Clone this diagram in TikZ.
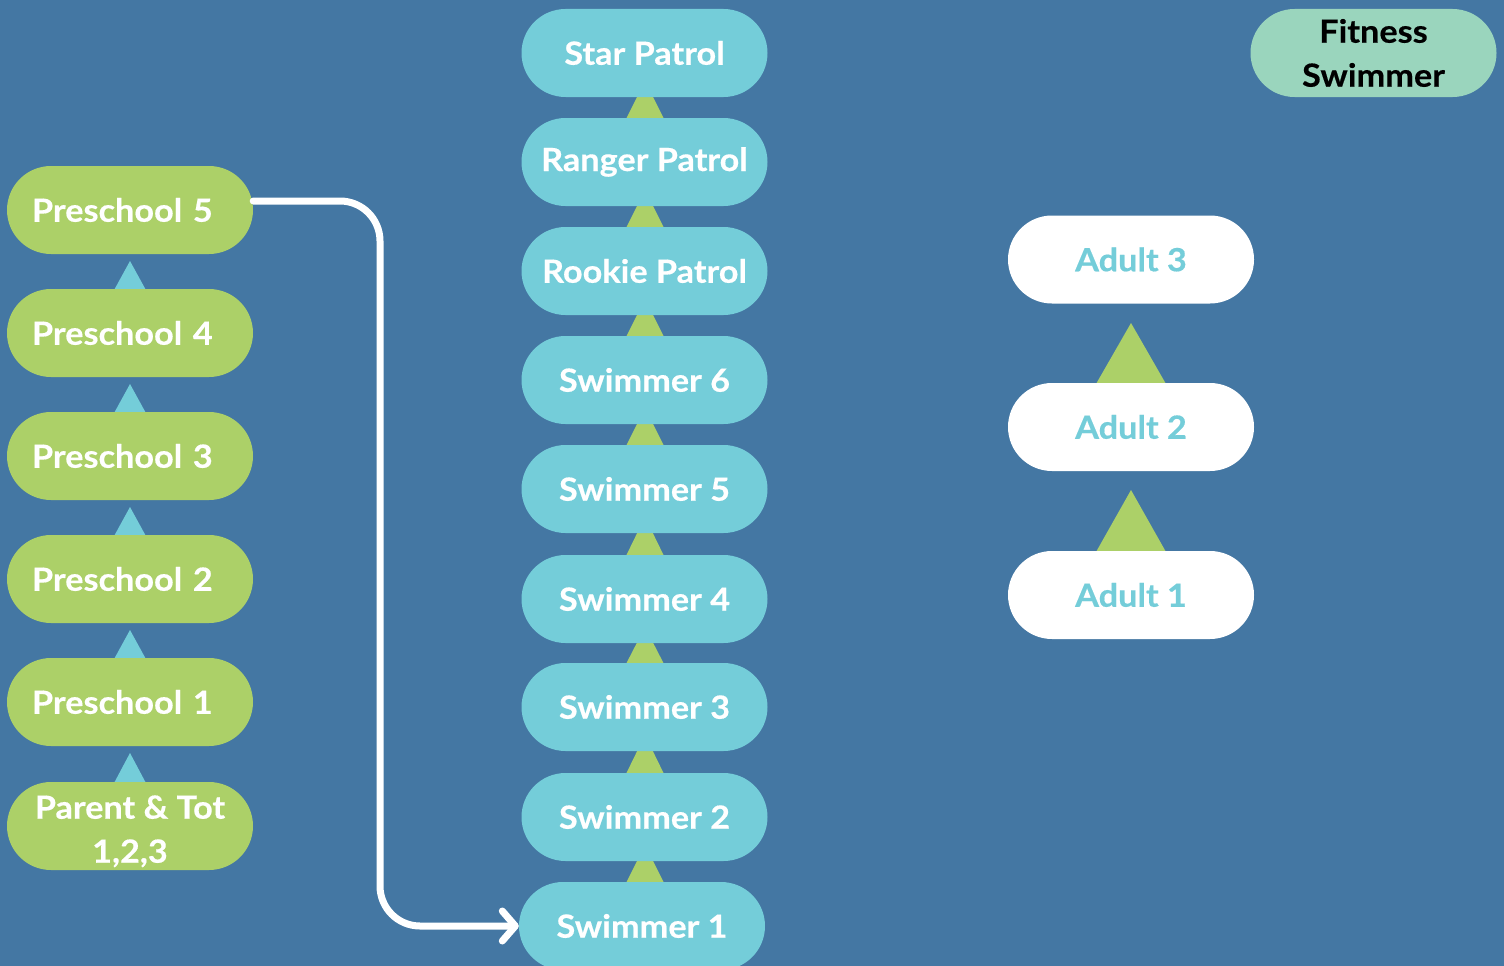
\documentclass[tikz,border=0pt]{standalone}
\usepackage{fontspec}
\setmainfont{Lato}[FakeStretch=1.07, BoldFeatures={FakeBold=0.4}]
\usetikzlibrary{arrows.meta}
\definecolor{bgblue}{RGB}{68,119,163}
\definecolor{lgreen}{RGB}{172,208,104}
\definecolor{lcyan}{RGB}{116,205,217}
\definecolor{lmint}{RGB}{154,213,189}
\tikzset{
  pill/.style={rectangle, rounded corners=44pt, minimum width=246pt, minimum height=88pt, inner sep=0pt,
    font=\fontsize{32}{44}\selectfont\bfseries},
  greenpill/.style={pill, fill=lgreen, text=white},
  cyanpill/.style={pill, fill=lcyan, text=white},
  whitepill/.style={pill, fill=white, text=lcyan},
  mintpill/.style={pill, fill=lmint, text=black, align=center},
  flow/.style={draw=white, line width=7pt, rounded corners=40pt, line cap=round,
    -{Straight Barb[length=13pt,width=30pt,line width=7pt,round]}},
}
\begin{document}
\begin{tikzpicture}[x=1pt,y=-1pt]
\fill[bgblue] (0,0) rectangle (1504,966);
\useasboundingbox (0,0) rectangle (1504,966);
% left triangles (cyan)
\foreach \b/\t in {254/289,377/412,500/535,623/658,746/782}{
  \fill[lcyan] (130,\b+7) -- (113,\t+3) -- (147,\t+3) -- cycle;}
% middle triangles (green)
\foreach \b/\t in {97/118,206/227,315/336,424/445,533/555,643/663,751/773,861/882}{
  \fill[lgreen] (645,\b-16) -- (625,\t+3) -- (665,\t+3) -- cycle;}
% right triangles (green)
\foreach \b/\t in {304/383,471/551}{
  \fill[lgreen] (1131,\b+19) -- (1096,\t+1) -- (1166,\t+1) -- cycle;}
% left column
\node[greenpill, text width=196pt, align=left] (p5) at (130,210) {Preschool 5};
\node[greenpill, text width=196pt, align=left] (p4) at (130,333) {Preschool 4};
\node[greenpill, text width=196pt, align=left] (p3) at (130,456) {Preschool 3};
\node[greenpill, text width=196pt, align=left] (p2) at (130,579) {Preschool 2};
\node[greenpill, text width=196pt, align=left] (p1) at (130,702) {Preschool 1};
\node[greenpill, align=center] (pt) at (130,826) {\rule{0pt}{34pt}Parent \& Tot\\1,2,3};
% middle column
\node[cyanpill] (star) at (644.5,53) {Star Patrol};
\node[cyanpill] (ranger) at (644.5,162) {Ranger Patrol};
\node[cyanpill] (rookie) at (644.5,271) {Rookie Patrol};
\node[cyanpill] (s6) at (644.5,380) {Swimmer 6};
\node[cyanpill] (s5) at (644.5,489) {Swimmer 5};
\node[cyanpill] (s4) at (644.5,599) {Swimmer 4};
\node[cyanpill] (s3) at (644.5,707) {Swimmer 3};
\node[cyanpill] (s2) at (644.5,817) {Swimmer 2};
\node[cyanpill] (s1) at (642,926) {Swimmer 1};
% right column
\node[whitepill] (a3) at (1131,259.5) {Adult 3};
\node[whitepill] (a2) at (1131,427) {Adult 2};
\node[whitepill] (a1) at (1131,595) {Adult 1};
\node[mintpill] (fit) at (1373.5,53) {Fitness\\Swimmer};
% connector
\coordinate (bend) at (380,0);
\draw[flow] ([yshift=9pt]p5.east) -- ([yshift=9pt]p5.east -| bend) -- (bend |- s1.west) -- (s1.west);
\end{tikzpicture}
\end{document}
